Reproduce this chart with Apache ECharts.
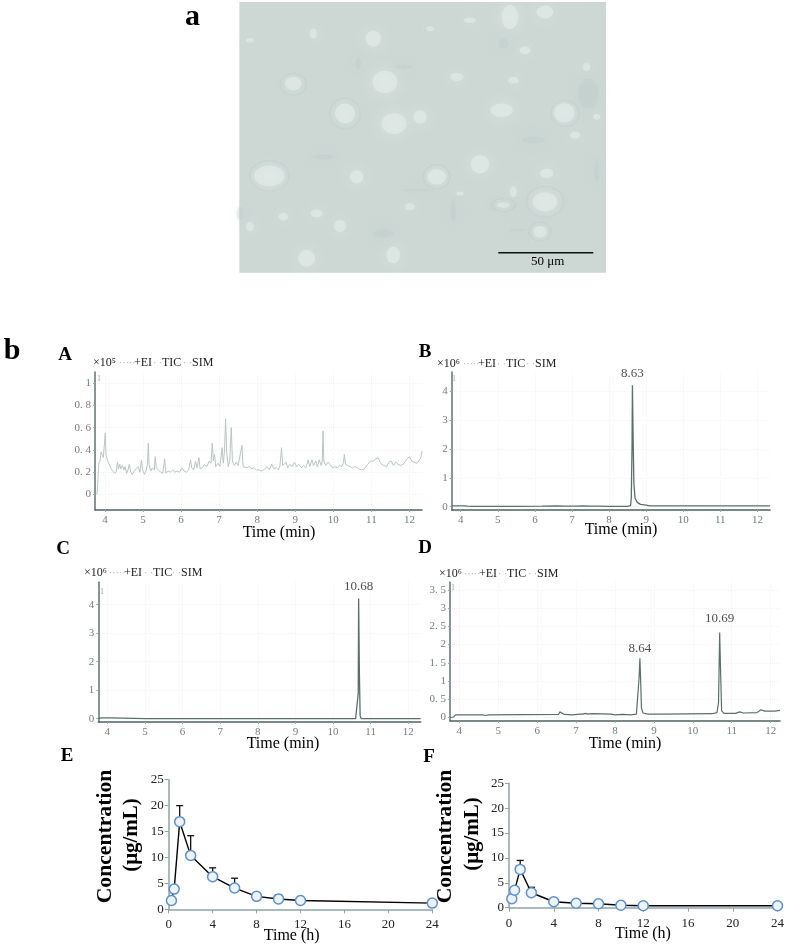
<!DOCTYPE html>
<html><head><meta charset="utf-8">
<style>html,body{margin:0;padding:0;background:#fff}#c{width:787px;height:945px}</style>
<script src="https://cdn.jsdelivr.net/npm/echarts@6/dist/echarts.min.js"></script>
</head><body><div id="c"></div>
<script>
// ---- chromatogram traces, [minutes, abundance]
const traceA = [[3.78,0],[3.8,0.02],[3.82,0.16],[3.84,0.28],[3.87,0.3],[3.9,0.38],[3.93,0.36],[3.96,0.33],[3.99,0.34],[4.01,0.55],[4.03,0.36],[4.06,0.31],[4.1,0.28],[4.15,0.24],[4.2,0.21],[4.27,0.19],[4.3,0.21],[4.33,0.29],[4.36,0.23],[4.39,0.27],[4.42,0.23],[4.46,0.26],[4.5,0.22],[4.53,0.25],[4.57,0.19],[4.6,0.21],[4.64,0.27],[4.68,0.2],[4.72,0.18],[4.77,0.21],[4.82,0.2],[4.87,0.25],[4.92,0.2],[4.96,0.31],[4.99,0.22],[5.04,0.18],[5.08,0.21],[5.12,0.28],[5.14,0.46],[5.16,0.27],[5.2,0.21],[5.25,0.24],[5.3,0.22],[5.32,0.34],[5.35,0.24],[5.4,0.25],[5.46,0.2],[5.52,0.19],[5.57,0.32],[5.6,0.19],[5.66,0.21],[5.72,0.2],[5.78,0.22],[5.84,0.2],[5.9,0.21],[5.96,0.2],[6.02,0.24],[6.08,0.21],[6.14,0.2],[6.2,0.22],[6.25,0.31],[6.28,0.24],[6.33,0.22],[6.38,0.3],[6.42,0.24],[6.47,0.33],[6.5,0.23],[6.56,0.24],[6.62,0.27],[6.68,0.25],[6.74,0.3],[6.79,0.28],[6.82,0.46],[6.85,0.3],[6.88,0.36],[6.91,0.25],[6.97,0.28],[7.02,0.25],[7.08,0.42],[7.11,0.28],[7.14,0.38],[7.17,0.68],[7.2,0.38],[7.24,0.25],[7.28,0.3],[7.32,0.6],[7.35,0.3],[7.4,0.26],[7.45,0.29],[7.5,0.26],[7.55,0.27],[7.6,0.44],[7.63,0.25],[7.68,0.26],[7.73,0.24],[7.8,0.25],[7.86,0.23],[7.92,0.24],[7.98,0.22],[8.05,0.22],[8.12,0.21],[8.2,0.23],[8.26,0.25],[8.32,0.22],[8.38,0.27],[8.44,0.23],[8.5,0.24],[8.56,0.22],[8.6,0.26],[8.64,0.42],[8.67,0.26],[8.72,0.25],[8.76,0.29],[8.8,0.24],[8.86,0.27],[8.92,0.25],[8.98,0.29],[9.04,0.25],[9.1,0.27],[9.16,0.24],[9.22,0.26],[9.28,0.24],[9.34,0.31],[9.38,0.25],[9.44,0.31],[9.48,0.26],[9.54,0.3],[9.58,0.25],[9.63,0.31],[9.68,0.26],[9.71,0.3],[9.73,0.57],[9.75,0.3],[9.8,0.26],[9.86,0.29],[9.92,0.27],[9.98,0.24],[10.04,0.25],[10.1,0.24],[10.16,0.26],[10.22,0.25],[10.27,0.29],[10.29,0.36],[10.32,0.27],[10.38,0.26],[10.44,0.25],[10.5,0.24],[10.58,0.25],[10.66,0.23],[10.74,0.22],[10.82,0.23],[10.9,0.27],[10.98,0.3],[11.05,0.3],[11.12,0.32],[11.18,0.33],[11.24,0.28],[11.32,0.26],[11.4,0.25],[11.46,0.29],[11.52,0.3],[11.58,0.26],[11.64,0.29],[11.7,0.27],[11.78,0.26],[11.86,0.28],[11.94,0.32],[12.0,0.34],[12.06,0.3],[12.12,0.29],[12.2,0.28],[12.26,0.31],[12.3,0.33],[12.33,0.39]];
const traceB = [[3.76,0.03],[4.1,0.03],[4.18,0.02],[4.3,0.01],[5.5,0.01],[6.2,0.02],[6.6,0.03],[6.65,0.01],[6.8,0.02],[7.1,0.02],[7.3,0.03],[7.5,0.02],[7.7,0.02],[8,0.01],[8.5,0.01],[8.58,0.04],[8.6,0.3],[8.62,2.1],[8.63,4.2],[8.65,2.3],[8.67,0.8],[8.7,0.3],[8.76,0.15],[8.85,0.08],[9,0.05],[9.1,0.03],[12.34,0.03]];
const traceC = [[3.76,0.01],[3.85,0.03],[4.1,0.03],[4.15,0],[5,0],[7.3,0],[7.33,0.03],[7.37,0],[10.5,0],[10.53,0.03],[10.6,0],[10.65,0.02],[10.67,0.9],[10.68,4.22],[10.7,1.6],[10.72,0.1],[10.75,0],[11.75,0],[11.78,0.02],[11.82,0],[12.33,0]];
const traceD = [[3.76,0],[3.85,0.01],[3.9,0.07],[4.6,0.07],[4.68,0.05],[4.75,0.07],[6.55,0.08],[6.58,0.15],[6.62,0.1],[6.7,0.08],[6.9,0.07],[7.1,0.09],[7.12,0.13],[7.18,0.09],[7.24,0.11],[7.3,0.09],[7.4,0.1],[7.9,0.09],[8,0.07],[8.2,0.08],[8.4,0.07],[8.55,0.09],[8.6,0.14],[8.62,1.1],[8.64,1.62],[8.66,1.0],[8.68,0.25],[8.72,0.12],[8.85,0.09],[9.15,0.09],[9.2,0.11],[9.25,0.09],[10.5,0.1],[10.62,0.13],[10.66,0.4],[10.69,2.33],[10.71,1.4],[10.74,0.18],[10.8,0.11],[11.1,0.11],[11.2,0.15],[11.3,0.12],[11.65,0.13],[11.75,0.21],[11.85,0.17],[12.1,0.17],[12.24,0.19]];
const peaksB = [[8.63,4.2]];
const peaksC = [[10.68,4.22]];
const peaksD = [[8.64,1.62],[10.69,2.33]];
// ---- pharmacokinetics
const hours = [0.25,0.5,1,2,4,6,8,10,12,24];
const concE = [1.7,3.9,16.9,10.4,6.3,4.1,2.5,2.0,1.7,1.2];
const upperE = [2.1,4.4,20,14.2,8,6,2.9,2.8,2.2,1.5];
const concF = [1.8,3.5,7.7,3.0,1.2,0.9,0.8,0.5,0.4,0.4];
const upperF = [2.1,3.9,9.5,4.1,1.5,1.2,1.1,0.8,0.7,0.6];
// ---- tick labels
const minuteTicks = [4,5,6,7,8,9,10,11,12];
const ticksA = [0,0.2,0.4,0.6,0.8,1];
const labelsA = ['0','0. 2','0. 4','0. 6','0. 8','1'];
const ticksBC = [0,1,2,3,4];
const ticksD = [0,0.5,1,1.5,2,2.5,3,3.5];
const labelsD = ['0','0. 5','1','1. 5','2','2. 5','3','3. 5'];
// ---- micrograph spots: x, y, width, height in the photo's own axis
const softSpots = [[1020,50,42,60],[1125,35,42,32],[610,115,38,40],[1065,150,28,20],[370,250,42,34],[645,245,62,56],[525,340,50,50],[672,370,62,52],[995,330,56,34],[1183,338,52,48],[298,527,76,52],[930,492,46,46],[800,530,48,38],[1125,605,62,48],[1000,615,34,14],[1110,695,34,30],[1130,520,34,24],[510,678,30,30],[410,775,42,42],[670,765,34,42],[860,230,34,20],[1030,240,28,18],[750,350,34,34],[560,530,34,34],[1030,575,18,26],[870,580,18,10],[1215,405,26,18],[430,100,18,26],[780,85,18,12],[240,120,20,12],[1250,200,18,20],[440,640,30,20],[340,650,24,20],[720,620,24,18],[1280,350,18,14],[900,60,30,14],[240,680,20,24]];
const ringSpots = [[370,252,78,66],[525,340,92,92],[298,527,118,92],[1125,605,112,92],[1000,615,72,40],[1110,695,66,58],[800,530,80,72],[1185,340,84,78]];
const darkSmears = [[1255,280,60,90],[565,190,16,40],[850,630,16,70],[1040,690,50,8],[740,570,80,8],[700,200,50,14],[1000,130,30,30],[640,700,60,24],[210,640,20,40],[460,470,70,14],[1090,420,70,20],[1280,510,14,70]];

const SERIF = '"Liberation Serif"';
const chromInk = '#6f7f7d', faint = '#f0f4f3';

function chromAxes(i, xr, yr, yTicks, yLabels){
  return {
    x:{type:'value',gridIndex:i,min:xr[0],max:xr[1],
      axisLine:{onZero:false,lineStyle:{color:'#4f6160',width:1.5}},
      axisTick:{show:true,length:2,customValues:minuteTicks,lineStyle:{color:'#9aa'}},
      axisLabel:{customValues:minuteTicks,color:chromInk,fontFamily:SERIF,fontSize:11,margin:5},
      splitLine:{show:true,lineStyle:{color:faint,type:'dotted'}}},
    y:{type:'value',gridIndex:i,min:yr[0],max:yr[1],
      axisLine:{show:true,onZero:false,lineStyle:{color:'#5f7372',width:1.5}},
      axisTick:{show:true,length:2,customValues:yTicks,lineStyle:{color:'#9aa'}},
      axisLabel:{customValues:yTicks,color:chromInk,fontFamily:SERIF,fontSize:11,margin:4,
        formatter:v=>{const k=yTicks.indexOf(v);return yLabels?yLabels[k]:String(v);}},
      splitLine:{show:true,lineStyle:{color:faint,type:'dotted'}}}
  };
}
function pkAxes(i){
  const ink='#8da5a6', lab={color:'#222',fontFamily:SERIF,fontSize:13};
  return {
    x:{type:'value',gridIndex:i,min:0,max:24,interval:4,
      axisLine:{onZero:false,lineStyle:{color:ink,width:1.5}},
      axisTick:{length:4,lineStyle:{color:ink}},axisLabel:{...lab,margin:9},splitLine:{show:false}},
    y:{type:'value',gridIndex:i,min:0,max:25,interval:5,
      axisLine:{show:true,lineStyle:{color:ink,width:1.5}},
      axisTick:{show:true,length:4,lineStyle:{color:ink}},axisLabel:{...lab,margin:5},splitLine:{show:false}}
  };
}
const grids = [
  {left:95,right:365,top:372,bottom:435},
  {left:451.7,right:17,top:372,bottom:435},
  {left:98.3,right:366.3,top:582.3,bottom:223},
  {left:450,right:7,top:582.3,bottom:224},
  {left:168.7,right:354.7,top:779.7,bottom:35.7},
  {left:509,right:7.7,top:783.3,bottom:37.3},
  {left:239.3,right:181,top:2,bottom:672.3,show:true,backgroundColor:'#cdd8d5',borderWidth:0}
];
const ax = [
  chromAxes(0,[3.74,12.33],[-0.14,1.1],ticksA,labelsA),
  chromAxes(1,[3.757,12.34],[-0.115,4.66],ticksBC),
  chromAxes(2,[3.76,12.33],[-0.116,4.786],ticksBC),
  chromAxes(3,[3.76,12.24],[-0.1,3.71],ticksD,labelsD),
  pkAxes(4),pkAxes(5)
];
const photoX = {type:'value',gridIndex:6,min:208,max:1308,show:false};
const photoY = {type:'value',gridIndex:6,min:5,max:818,inverse:true,show:false};

function chrom(i, data, color, width){
  return {type:'line',xAxisIndex:i,yAxisIndex:i,data,showSymbol:false,symbol:'none',
    lineStyle:{color,width},sampling:'none',silent:true,z:3};
}
function peakLabels(i, data, gaps){
  return {type:'scatter',xAxisIndex:i,yAxisIndex:i,silent:true,z:5,symbolSize:1,itemStyle:{color:'rgba(0,0,0,0)'},
    data:data.map((p,k)=>({value:p,label:{show:true,position:'top',distance:gaps[k],
      formatter:p[0].toFixed(2),color:'#222',fontFamily:SERIF,fontSize:13}}))};
}
function errorBars(i, upper, conc){
  return {type:'custom',xAxisIndex:i,yAxisIndex:i,clip:false,silent:true,z:2,
    data:hours.map((h,k)=>[h,conc[k],upper[k]]),
    renderItem:(p,api)=>{
      const a=api.coord([api.value(0),api.value(1)]), b=api.coord([api.value(0),api.value(2)]);
      const st={stroke:'#111',lineWidth:1.3};
      return {type:'group',children:[
        {type:'line',shape:{x1:a[0],y1:a[1],x2:b[0],y2:b[1]},style:st},
        {type:'line',shape:{x1:b[0]-3.5,y1:b[1],x2:b[0]+3.5,y2:b[1]},style:st}]};
    }};
}
function pkLine(i, conc){
  return {type:'line',xAxisIndex:i,yAxisIndex:i,data:hours.map((h,k)=>[h,conc[k]]),
    clip:false,silent:true,z:4,symbol:'circle',symbolSize:10,showAllSymbol:true,
    lineStyle:{color:'#000',width:1.4},
    itemStyle:{color:'#eef3f8',borderColor:'#5c90cc',borderWidth:1.5}};
}
function photo(data, style, z, scale){
  return {type:'scatter',xAxisIndex:6,yAxisIndex:6,silent:true,z,data,
    symbolSize:v=>[v[2]/scale,v[3]/scale],itemStyle:style};
}

// free text placed on the page
function T(text,x,y,size,extra){
  return {type:'text',x,y,z:20,silent:true,rotation:(extra&&extra.rot)||0,
    style:{text,fill:(extra&&extra.fill)||'#000',textAlign:(extra&&extra.align)||'center',textVerticalAlign:'middle',
      font:((extra&&extra.bold)?'bold ':'')+size+'px '+SERIF}};
}
function header(exp,x0,xEI,xTIC,xSIM,y){
  const ink='#222',dots='#aab4b2';
  const o={align:'left',fill:ink}, d={align:'left',fill:dots};
  return [T('×10'+exp,x0,y,12,o),T('·····',xEI-15,y,10,d),T('+EI',xEI,y,12,o),T('· ·',xTIC-9,y,10,d),
          T('TIC',xTIC,y,12,o),T('· ·',xSIM-9,y,10,d),T('SIM',xSIM,y,12,o)];
}
const rot = Math.PI/2;
const texts = [
  T('a',192.5,17,30,{bold:true}),T('b',12,351,30,{bold:true}),
  T('A',65,355,19,{bold:true}),T('B',425,352,19,{bold:true}),
  T('C',63,549,19,{bold:true}),T('D',425,548,19,{bold:true}),
  T('E',67,756,19,{bold:true}),T('F',429,757,19,{bold:true}),
  ...header('⁵',93,134,162,192,363),...header('⁶',437,478,506,535,364),
  ...header('⁶',84,124,153,181,573),...header('⁶',439,479,507,537,574),
  T('1',99,379,9,{fill:'#aab'}),T('1',454,379,9,{fill:'#aab'}),T('1',102,592,9,{fill:'#aab'}),T('1',453,588,9,{fill:'#aab'}),
  T('Time (min)',279,533,16),T('Time (min)',621,530,16),T('Time (min)',283,744,16),T('Time (min)',625,744,16),
  T('Time (h)',291.7,935.5,16),T('Time (h)',643,934,16),
  T('Concentration',105,836.5,21.7,{bold:true,rot}),T('(μg/mL)',132,835,21,{bold:true,rot}),
  T('Concentration',445.7,836.5,21.7,{bold:true,rot}),T('(μg/mL)',472.7,834,21,{bold:true,rot}),
  T('50 μm',547.7,262,13),
  {type:'rect',z:20,silent:true,shape:{x:498.3,y:252,width:95,height:1.6},style:{fill:'#111'}}
];

const chart = echarts.init(document.getElementById('c'),null,{renderer:'canvas'});
chart.setOption({
  animation:false,backgroundColor:'#fff',
  grid:grids,
  xAxis:[...ax.map(a=>a.x),photoX],
  yAxis:[...ax.map(a=>a.y),photoY],
  series:[
    photo(darkSmears,{color:'rgba(188,203,198,0.4)',shadowBlur:14,shadowColor:'rgba(188,203,198,0.8)'},1,3),
    photo(ringSpots,{color:'rgba(0,0,0,0)',borderColor:'rgba(182,197,192,0.4)',borderWidth:1.5,shadowBlur:7,shadowColor:'rgba(182,197,192,0.6)'},2,3),
    photo(softSpots,{color:'rgba(228,236,234,0.75)',shadowBlur:16,shadowColor:'rgba(228,236,234,0.95)'},3,2.5),
    chrom(0,traceA,'#b9c6c2',1),
    chrom(1,traceB,'#5c6e6c',1.3),peakLabels(1,peaksB,2),
    chrom(2,traceC,'#5c6e6c',1.3),peakLabels(2,peaksC,3),
    chrom(3,traceD,'#5c6e6c',1.2),peakLabels(3,peaksD,[3,7]),
    errorBars(4,upperE,concE),pkLine(4,concE),
    errorBars(5,upperF,concF),pkLine(5,concF)
  ],
  graphic:texts
});
</script></body></html>
